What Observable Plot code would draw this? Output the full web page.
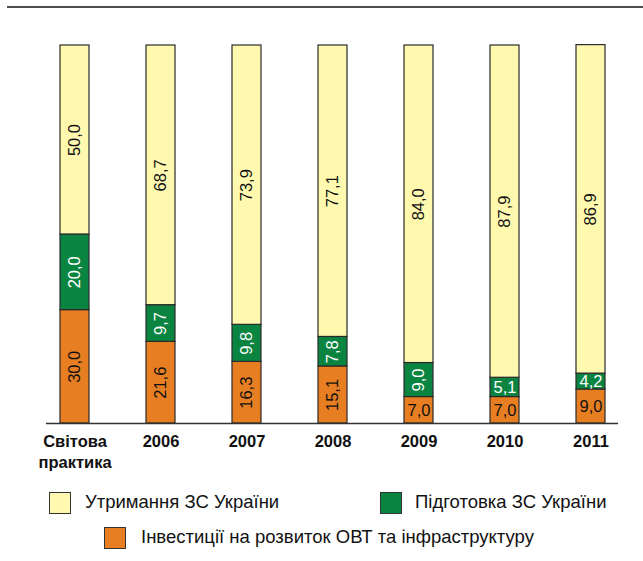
<!DOCTYPE html>
<html>
<head>
<meta charset="utf-8">
<script src="https://cdn.jsdelivr.net/npm/d3@7"></script>
<script src="https://cdn.jsdelivr.net/npm/@observablehq/plot@0.6"></script>
<style>
  body { margin: 0; background: #fff; font-family: "Liberation Sans", Arial, sans-serif; }
  #wrap { position: relative; width: 643px; height: 561px; }
  #topline { position: absolute; left: 7px; right: 0; top: 6px; height: 2px; background: #4d4d4d; }
  #chart { position: absolute; left: 0; top: 0; }
  .lg { position: absolute; font-size: 18.5px; color: #111; white-space: nowrap; line-height: 22px; }
  .sw { position: absolute; width: 20px; height: 20px; border: 1px solid #333; box-sizing: content-box; }
</style>
</head>
<body>
<div id="wrap">
  <div id="chart"></div>
  <div id="topline"></div>
  <div class="sw" id="sw0" style="left:49px; top:492px;"></div>
  <div class="lg" id="lg0" style="left:85px; top:491px;"></div>
  <div class="sw" id="sw1" style="left:380px; top:492px;"></div>
  <div class="lg" id="lg1" style="left:415px; top:491px;"></div>
  <div class="sw" id="sw2" style="left:104px; top:527px;"></div>
  <div class="lg" id="lg2" style="left:141px; top:526px;"></div>
</div>
<script>
const categories = ["Світова практика", "2006", "2007", "2008", "2009", "2010", "2011"];
const seriesNames = ["Інвестиції на розвиток ОВТ та інфраструктуру", "Підготовка ЗС України", "Утримання ЗС України"];
const investments = [30.0, 21.6, 16.3, 15.1, 7.0, 7.0, 9.0];
const training = [20.0, 9.7, 9.8, 7.8, 9.0, 5.1, 4.2];
const maintenance = [50.0, 68.7, 73.9, 77.1, 84.0, 87.9, 86.9];
const colors = ["#E87E22", "#0A8441", "#FFF9B0"];
// labels drawn horizontally (small segments)
const flatLabels = ["2009|0", "2010|0", "2010|1", "2011|0", "2011|1"];

const seriesValues = [investments, training, maintenance];
const rows = [];
categories.forEach((c, i) => {
  let base = 0;
  seriesValues.forEach((vals, s) => {
    const v = vals[i];
    rows.push({cat: c, series: seriesNames[s], s, value: v, y1: base, y2: base + v, mid: base + v / 2,
               flat: flatLabels.includes(c + "|" + s)});
    base += v;
  });
});
const fmt = v => v.toFixed(1).replace(".", ",");
const font = '"Liberation Sans", Arial, sans-serif';

const textMarks = [];
for (const flat of [false, true]) {
  for (const white of [false, true]) {
    textMarks.push(Plot.text(rows.filter(d => d.flat === flat && (d.s === 1) === white), {
      x: "cat", y: "mid", text: d => fmt(d.value),
      rotate: flat ? 0 : -90, fill: white ? "#fff" : "#111",
      fontSize: 16.5, fontFamily: font
    }));
  }
}

const chart = Plot.plot({
  width: 643,
  height: 478,
  marginTop: 45,
  marginBottom: 55,
  marginLeft: 46,
  marginRight: 25,
  style: {fontFamily: font, background: "transparent"},
  x: {domain: categories, paddingInner: 0.665, paddingOuter: 0.139, axis: null},
  y: {domain: [0, 100], axis: null},
  color: {domain: seriesNames, range: colors},
  marks: [
    Plot.barY(rows, {x: "cat", y1: "y1", y2: "y2", fill: "series", stroke: "#2a2a2a", strokeWidth: 1.2}),
    Plot.ruleY([0], {stroke: "#333", strokeWidth: 1.5}),
    Plot.axisX({tickSize: 0, tickPadding: 9, fontSize: 16.5, fontWeight: "bold", fill: "#111", label: null,
      lineHeight: 1.27, tickFormat: d => d.replace(" ", "\n"), fontFamily: font}),
    ...textMarks
  ]
});
document.getElementById("chart").appendChild(chart);

const legendOrder = [2, 1, 0];
legendOrder.forEach((s, k) => {
  document.getElementById("sw" + k).style.background = colors[s];
  document.getElementById("lg" + k).textContent = seriesNames[s];
});
</script>
</body>
</html>
